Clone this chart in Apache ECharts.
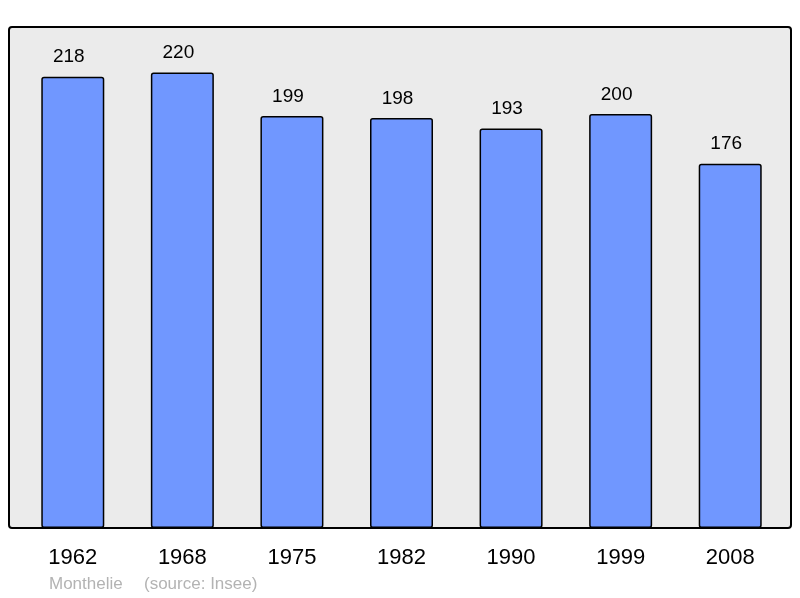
<!DOCTYPE html>
<html>
<head>
<meta charset="utf-8">
<script src="https://cdn.jsdelivr.net/npm/echarts@6/dist/echarts.min.js"></script>
<style>
  html, body { margin: 0; padding: 0; background: #fff; }
  #chart { width: 800px; height: 598px; }
</style>
</head>
<body>
<div id="chart"></div>
<script>
// population data
const years = ["1962", "1968", "1975", "1982", "1990", "1999", "2008"];
const population = [218, 220, 199, 198, 193, 200, 176];
const commune = "Monthelie";
const source = "(source: Insee)";

const chart = echarts.init(document.getElementById("chart"));

chart.setOption({
  animation: false,
  textStyle: { fontFamily: "Liberation Sans, Arial, sans-serif" },
  graphic: [
    {
      type: "rect",
      z: 0,
      shape: { x: 9, y: 27, width: 782, height: 501, r: 3 },
      style: { fill: "#ebebeb", stroke: "#000", lineWidth: 2 },
    },
    {
      type: "text",
      left: 49,
      top: 576,
      style: { text: commune, fill: "#b3b3b3", font: "17px Liberation Sans, Arial, sans-serif" },
    },
    {
      type: "text",
      left: 144,
      top: 576,
      style: { text: source, fill: "#b3b3b3", font: "17px Liberation Sans, Arial, sans-serif" },
    },
  ],
  grid: {
    left: 18,
    right: 15,
    top: 27,
    bottom: 70,
  },
  xAxis: {
    type: "category",
    data: years,
    axisLine: { show: false },
    axisTick: { show: false },
    axisLabel: {
      color: "#000",
      fontSize: 22,
      margin: 19,
    },
  },
  yAxis: {
    type: "value",
    min: 0,
    max: 242,
    show: false,
    splitLine: { show: false },
  },
  series: [
    {
      type: "bar",
      data: population,
      barWidth: 63,
      z: 2,
      itemStyle: {
        color: "#7097ff",
        borderColor: "#000",
        borderWidth: 1.5,
        borderRadius: 2,
      },
      label: {
        show: true,
        position: "top",
        distance: 10,
        offset: [-4, 0],
        color: "#000",
        fontSize: 19,
      },
    },
  ],
});
</script>
</body>
</html>
